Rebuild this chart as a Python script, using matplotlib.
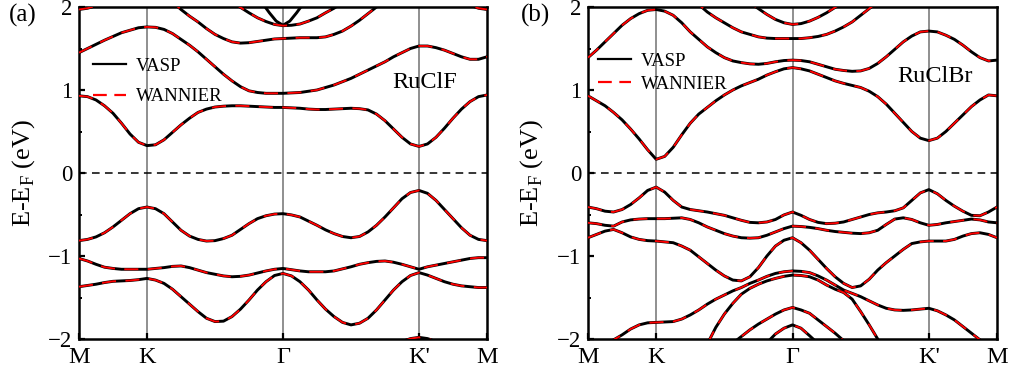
import numpy as np
import matplotlib
matplotlib.use('Agg')
import matplotlib.pyplot as plt
from matplotlib.lines import Line2D

plt.rcParams['font.family'] = ['Liberation Serif', 'DejaVu Serif']
plt.rcParams['mathtext.fontset'] = 'custom'
plt.rcParams['mathtext.rm'] = 'Liberation Serif'

# k-path: M - K - Gamma - K' - M, sampled every 1/8 of the M-K length
kpath = np.linspace(0, 6, 49)
kticks = [0, 1, 3, 5, 6]
klabels = ['M', 'K', 'Γ', "K'", 'M']

# ---- RuClF bands (eV), values on kpath ----
a_c1 = [0.93, 0.92, 0.88, 0.81, 0.72, 0.60, 0.47, 0.37, 0.33, 0.34, 0.40, 0.49, 0.58,
        0.66, 0.73, 0.77, 0.795, 0.805, 0.81, 0.81, 0.805, 0.80, 0.795, 0.79, 0.79,
        0.785, 0.78, 0.77, 0.765, 0.765, 0.77, 0.775, 0.78, 0.775, 0.76, 0.71, 0.63,
        0.53, 0.43, 0.35, 0.32, 0.35, 0.43, 0.54, 0.66, 0.77, 0.86, 0.92, 0.94]
a_c2 = [1.45, 1.50, 1.55, 1.60, 1.645, 1.69, 1.72, 1.75, 1.76, 1.755, 1.73, 1.68, 1.61,
        1.54, 1.46, 1.37, 1.28, 1.19, 1.11, 1.04, 0.99, 0.97, 0.96, 0.96, 0.96,
        0.965, 0.97, 0.985, 1.00, 1.03, 1.06, 1.10, 1.14, 1.19, 1.24, 1.29, 1.34,
        1.40, 1.45, 1.50, 1.53, 1.53, 1.51, 1.48, 1.44, 1.40, 1.37, 1.37, 1.40]
a_c3 = [1.97, 1.985, 2.015, 2.07, 2.12, 2.16, 2.20, 2.23, 2.25, 2.22, 2.15, 2.06, 1.97,
        1.89, 1.82, 1.74, 1.67, 1.62, 1.58, 1.565, 1.57, 1.585, 1.60, 1.615, 1.62,
        1.625, 1.63, 1.63, 1.63, 1.64, 1.67, 1.71, 1.77, 1.84, 1.92, 2.00, 2.08,
        2.15, 2.20, 2.23, 2.25, 2.23, 2.20, 2.15, 2.10, 2.05, 2.02, 1.985, 1.97]
a_c4_k = [2.25, 2.375, 2.5, 2.625, 2.75, 2.875, 3.0, 3.125, 3.25, 3.375, 3.5, 3.625, 3.75, 3.875]
a_c4 = [2.06, 1.995, 1.93, 1.87, 1.825, 1.79, 1.775, 1.78, 1.795, 1.83, 1.87, 1.93, 1.985, 2.05]
a_c5_k = [2.72, 2.8, 2.9, 3.0, 3.1, 3.2, 3.28]      # only in VASP
a_c5 = [2.02, 1.93, 1.83, 1.78, 1.83, 1.93, 2.02]
a_v1 = [-0.815, -0.80, -0.77, -0.72, -0.65, -0.57, -0.49, -0.43, -0.41, -0.43, -0.49, -0.59, -0.69,
        -0.76, -0.80, -0.82, -0.815, -0.79, -0.75, -0.68, -0.61, -0.55, -0.515, -0.495, -0.49,
        -0.505, -0.53, -0.58, -0.63, -0.685, -0.73, -0.765, -0.78, -0.765, -0.71, -0.63, -0.53,
        -0.42, -0.31, -0.235, -0.21, -0.245, -0.33, -0.44, -0.55, -0.66, -0.75, -0.80, -0.815]
a_v2 = [-1.03, -1.06, -1.10, -1.135, -1.15, -1.16, -1.16, -1.16, -1.16, -1.15, -1.14, -1.125, -1.12,
        -1.14, -1.17, -1.20, -1.22, -1.24, -1.25, -1.245, -1.23, -1.205, -1.18, -1.16, -1.15,
        -1.165, -1.18, -1.19, -1.19, -1.19, -1.18, -1.155, -1.13, -1.10, -1.08, -1.065, -1.06,
        -1.075, -1.10, -1.13, -1.16, -1.13, -1.11, -1.09, -1.07, -1.05, -1.03, -1.02, -1.02]
a_v3 = [-1.37, -1.355, -1.34, -1.32, -1.305, -1.30, -1.295, -1.285, -1.27, -1.29, -1.33, -1.40, -1.49,
        -1.58, -1.67, -1.75, -1.79, -1.785, -1.73, -1.64, -1.53, -1.41, -1.31, -1.235, -1.21,
        -1.24, -1.31, -1.41, -1.53, -1.64, -1.73, -1.80, -1.83, -1.81, -1.75, -1.65, -1.53,
        -1.41, -1.31, -1.235, -1.20, -1.23, -1.27, -1.31, -1.34, -1.36, -1.37, -1.38, -1.38]
a_v4_k = [4.5, 4.75, 4.875, 5.0, 5.125, 5.25, 5.5]
a_v4 = [-2.12, -2.03, -1.995, -1.98, -1.995, -2.03, -2.12]

# ---- RuClBr bands (eV) ----
b_c1 = [0.93, 0.87, 0.81, 0.73, 0.64, 0.53, 0.41, 0.28, 0.165, 0.20, 0.31, 0.46, 0.60,
        0.71, 0.79, 0.87, 0.94, 1.00, 1.05, 1.09, 1.13, 1.18, 1.22, 1.255, 1.27,
        1.255, 1.23, 1.19, 1.15, 1.11, 1.08, 1.055, 1.03, 0.985, 0.92, 0.83, 0.72,
        0.61, 0.50, 0.42, 0.39, 0.42, 0.50, 0.60, 0.70, 0.80, 0.88, 0.94, 0.93]
b_c2 = [1.39, 1.48, 1.58, 1.68, 1.78, 1.86, 1.92, 1.96, 1.97, 1.95, 1.90, 1.81, 1.70,
        1.61, 1.52, 1.45, 1.39, 1.35, 1.33, 1.315, 1.31, 1.32, 1.34, 1.355, 1.36,
        1.355, 1.34, 1.31, 1.28, 1.25, 1.235, 1.225, 1.23, 1.26, 1.32, 1.40, 1.49,
        1.58, 1.65, 1.70, 1.71, 1.70, 1.66, 1.61, 1.54, 1.46, 1.39, 1.35, 1.36]
b_c3_k = [1.5, 1.625, 1.75, 1.875, 2.0, 2.125, 2.25, 2.375, 2.5, 2.625, 2.75, 2.875,
          3.0, 3.125, 3.25, 3.375, 3.5, 3.625, 3.75, 3.875, 4.0, 4.125, 4.25]
b_c3 = [2.12, 2.03, 1.94, 1.87, 1.81, 1.75, 1.70, 1.67, 1.64, 1.625, 1.62, 1.62,
        1.62, 1.62, 1.63, 1.645, 1.67, 1.71, 1.76, 1.82, 1.90, 1.98, 2.06]
b_c4_k = [2.25, 2.375, 2.5, 2.625, 2.75, 2.875, 3.0, 3.125, 3.25, 3.375, 3.5, 3.625, 3.75]
b_c4 = [2.12, 2.05, 1.98, 1.91, 1.85, 1.81, 1.79, 1.80, 1.83, 1.875, 1.93, 1.995, 2.06]
b_v1 = [-0.41, -0.43, -0.46, -0.47, -0.44, -0.38, -0.30, -0.21, -0.17, -0.23, -0.33, -0.41, -0.44,
        -0.455, -0.47, -0.49, -0.51, -0.54, -0.57, -0.595, -0.60, -0.59, -0.56, -0.505, -0.47,
        -0.51, -0.56, -0.595, -0.61, -0.605, -0.59, -0.56, -0.53, -0.50, -0.48, -0.47, -0.455,
        -0.42, -0.33, -0.24, -0.20, -0.25, -0.33, -0.40, -0.46, -0.51, -0.515, -0.47, -0.41]
b_v2 = [-0.60, -0.61, -0.63, -0.64, -0.59, -0.565, -0.555, -0.55, -0.55, -0.55, -0.545, -0.54, -0.56,
        -0.60, -0.65, -0.69, -0.73, -0.76, -0.78, -0.785, -0.78, -0.75, -0.71, -0.67, -0.64,
        -0.645, -0.655, -0.67, -0.69, -0.705, -0.715, -0.725, -0.73, -0.72, -0.69, -0.62, -0.555,
        -0.54, -0.56, -0.60, -0.63, -0.62, -0.60, -0.585, -0.57, -0.555, -0.565, -0.59, -0.60]
b_v3 = [-0.78, -0.74, -0.70, -0.68, -0.72, -0.77, -0.80, -0.815, -0.82, -0.83, -0.84, -0.88, -0.93,
        -1.01, -1.09, -1.17, -1.24, -1.29, -1.30, -1.25, -1.14, -1.00, -0.88, -0.81, -0.78,
        -0.84, -0.93, -1.04, -1.15, -1.25, -1.33, -1.38, -1.36, -1.28, -1.17, -1.08, -1.00,
        -0.92, -0.85, -0.83, -0.82, -0.82, -0.82, -0.80, -0.76, -0.73, -0.72, -0.74, -0.78]
b_v4 = [-2.20, -2.14, -2.08, -2.01, -1.95, -1.88, -1.83, -1.805, -1.80, -1.795, -1.79, -1.76, -1.71,
        -1.65, -1.58, -1.52, -1.47, -1.42, -1.38, -1.33, -1.29, -1.245, -1.21, -1.19, -1.18,
        -1.185, -1.20, -1.24, -1.29, -1.35, -1.41, -1.45, -1.49, -1.54, -1.59, -1.63, -1.65,
        -1.655, -1.65, -1.64, -1.63, -1.66, -1.71, -1.77, -1.85, -1.93, -2.01, -2.08, -2.15]
b_v5_k = [1.75, 1.875, 2.0, 2.125, 2.25, 2.375, 2.5, 2.625, 2.75, 2.875, 3.0,
          3.125, 3.25, 3.375, 3.5, 3.625, 3.75, 3.875, 4.0, 4.125, 4.25, 4.375]
b_v5 = [-2.06, -1.86, -1.70, -1.57, -1.46, -1.39, -1.34, -1.30, -1.27, -1.245, -1.23,
        -1.235, -1.25, -1.29, -1.35, -1.40, -1.44, -1.52, -1.67, -1.83, -2.00, -2.17]
b_v6_k = [2.0, 2.125, 2.25, 2.375, 2.5, 2.625, 2.75, 2.875, 3.0, 3.125, 3.25, 3.375, 3.5, 3.625, 3.75]
b_v6 = [-2.15, -2.05, -1.97, -1.89, -1.82, -1.76, -1.70, -1.65, -1.62, -1.65, -1.69, -1.77, -1.85, -1.93, -2.02]
b_v7_k = [2.5, 2.75, 2.875, 3.0, 3.125, 3.25, 3.5]
b_v7 = [-2.15, -1.94, -1.87, -1.83, -1.87, -1.96, -2.15]

bands_a = [(kpath, a_c1), (kpath, a_c2), (kpath, a_c3), (a_c4_k, a_c4),
           (kpath, a_v1), (kpath, a_v2), (kpath, a_v3), (a_v4_k, a_v4)]
bands_b = [(kpath, b_c1), (kpath, b_c2), (b_c3_k, b_c3), (b_c4_k, b_c4),
           (kpath, b_v1), (kpath, b_v2), (kpath, b_v3), (kpath, b_v4),
           (b_v5_k, b_v5), (b_v6_k, b_v6), (b_v7_k, b_v7)]

red_dash = (7.5, 5)


def draw_panel(ax, bands, name, name_xy, leg_xy, leg_space):
    for k in kticks[1:-1]:
        ax.axvline(k, color='#878787', lw=1.3, zorder=1)
    ax.axhline(0, color='black', lw=1.1, dashes=(5, 3.5), zorder=1)
    for k, e in bands:
        ax.plot(k, e, color='black', lw=2.1, zorder=2, solid_joinstyle='round')
        ax.plot(k, e, color='red', lw=1.35, dashes=red_dash, zorder=3)
    ax.set_xlim(0, 6)
    ax.set_ylim(-2, 2)
    ax.set_xticks(kticks)
    ax.set_xticklabels(klabels)
    ax.set_yticks([-2, -1, 0, 1, 2])
    ax.set_yticks([-1.5, -0.5, 0.5, 1.5], minor=True)
    ax.set_yticklabels(['\u22122', '\u22121', '0', '1', '2'])
    ax.tick_params(axis='both', which='major', direction='in', length=4, width=1.6,
                   labelsize=16.5, pad=5)
    ax.tick_params(axis='y', which='minor', direction='in', length=2.5, width=1.4)
    ax.tick_params(axis='x', which='major', pad=6, labelsize=17.5)
    for s in ax.spines.values():
        s.set_linewidth(1.8)
    ax.set_ylabel('E-E$_\\mathrm{F}$ (eV)', fontsize=19)
    ax.yaxis.set_label_coords(-0.104, 0.5)
    ax.text(name_xy[0], name_xy[1], name, transform=ax.transAxes, fontsize=17.5,
            ha='center', va='center')
    handles = [Line2D([], [], color='black', lw=1.6),
               Line2D([], [], color='red', lw=1.6, dashes=(6.2, 3.4))]
    ax.legend(handles, ['VASP', 'WANNIER'], loc='upper left', bbox_to_anchor=leg_xy,
              frameon=False, fontsize=13.5, handlelength=1.76, handletextpad=0.53,
              labelspacing=leg_space, borderpad=0, borderaxespad=0)


fig = plt.figure(figsize=(10.09, 3.76), dpi=100)
ax1 = fig.add_axes([79 / 1009, 1 - 339 / 376, 408 / 1009, 332 / 376])
ax2 = fig.add_axes([588 / 1009, 1 - 339 / 376, 409 / 1009, 332 / 376])

draw_panel(ax1, bands_a, 'RuClF', (0.848, 0.774), (0.034, 0.848), 0.72)
draw_panel(ax2, bands_b, 'RuClBr', (0.848, 0.792), (0.024, 0.863), 0.32)
ax1.plot(a_c5_k, a_c5, color='black', lw=2.1, zorder=2)

fig.text(23 / 1009, 1 - 15 / 376, '(a)', fontsize=18, ha='center', va='center')
fig.text(536 / 1009, 1 - 15 / 376, '(b)', fontsize=18, ha='center', va='center')

fig.savefig('out.png', dpi=100)
